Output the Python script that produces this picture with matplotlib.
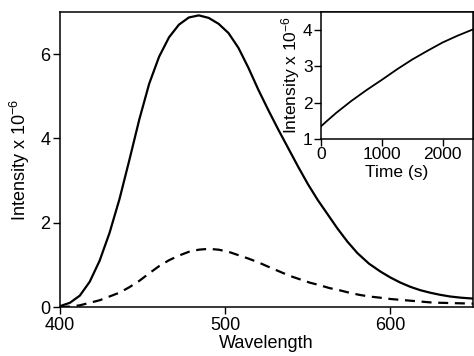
import matplotlib
matplotlib.use('Agg')
import matplotlib.pyplot as plt

plt.rcParams['font.family'] = ['Liberation Sans', 'DejaVu Sans']
plt.rcParams['mathtext.default'] = 'regular'

# emission spectra (intensity x 1e-6)
wl_solid = [400, 406, 412, 418, 424, 430, 436, 442, 448, 454, 460, 466, 472, 478, 484, 490,
            496, 502, 508, 514, 520, 526, 532, 538, 544, 550, 556, 562, 568, 574, 580, 587,
            594, 600, 606, 612, 618, 624, 630, 636, 643, 650]
int_solid = [0.02, 0.10, 0.27, 0.60, 1.10, 1.76, 2.56, 3.49, 4.45, 5.30, 5.94, 6.40, 6.70, 6.87,
             6.92, 6.86, 6.72, 6.50, 6.15, 5.68, 5.16, 4.68, 4.22, 3.78, 3.34, 2.92, 2.54, 2.20,
             1.86, 1.55, 1.28, 1.03, 0.84, 0.70, 0.58, 0.48, 0.40, 0.34, 0.29, 0.25, 0.22, 0.20]

wl_dash = [400, 406, 412, 418, 424, 430, 436, 442, 448, 454, 460, 466, 472, 478, 484, 490,
           496, 502, 508, 514, 520, 527, 533, 539, 545, 551, 557, 563, 569, 575, 581, 587,
           594, 600, 606, 612, 618, 624, 630, 640, 650]
int_dash = [0.0, 0.01, 0.04, 0.10, 0.16, 0.25, 0.34, 0.47, 0.62, 0.80, 0.97, 1.11, 1.22, 1.31,
            1.36, 1.38, 1.36, 1.31, 1.23, 1.15, 1.06, 0.94, 0.84, 0.74, 0.66, 0.58, 0.52, 0.45,
            0.40, 0.34, 0.29, 0.25, 0.22, 0.19, 0.17, 0.15, 0.13, 0.11, 0.10, 0.09, 0.08]

# inset: intensity vs time
t_inset = [0, 100, 250, 500, 750, 1000, 1250, 1500, 1750, 2000, 2250, 2500]
int_inset = [1.35, 1.50, 1.72, 2.05, 2.35, 2.63, 2.92, 3.19, 3.43, 3.66, 3.85, 4.02]

fig = plt.figure(figsize=(4.74, 3.56), dpi=100)
ax = fig.add_axes([60/474, 1 - 307/356, 413/474, 295/356])
ax.plot(wl_solid, int_solid, color='black', lw=1.6)
ax.plot(wl_dash, int_dash, color='black', lw=1.6, ls=(0, (4.5, 3)))
ax.set_xlim(400, 650)
ax.set_ylim(0, 7)
ax.set_xticks([400, 500, 600])
ax.set_yticks([0, 2, 4, 6])
ax.tick_params(direction='out', length=5, width=1, labelsize=13, pad=2)
ax.set_xlabel('Wavelength', fontsize=13, labelpad=1)
ax.set_ylabel('Intensity x 10$^{-6}$', fontsize=13, labelpad=6)
for s in ax.spines.values():
    s.set_linewidth(1.1)

ins = fig.add_axes([321/474, 1 - 139/356, 152/474, 127/356])
ins.plot(t_inset, int_inset, color='black', lw=1.3)
ins.set_xlim(0, 2500)
ins.set_ylim(1, 4.5)
ins.set_xticks([0, 1000, 2000])
ins.set_yticks([1, 2, 3, 4])
ins.tick_params(direction='out', length=5, width=1, labelsize=12.5, pad=1)
ins.set_xlabel('Time (s)', fontsize=12.5, labelpad=2)
ins.set_ylabel('Intensity x 10$^{-6}$', fontsize=12.5, labelpad=1)
for s in ins.spines.values():
    s.set_linewidth(1.1)

fig.savefig('out.png', dpi=100)
